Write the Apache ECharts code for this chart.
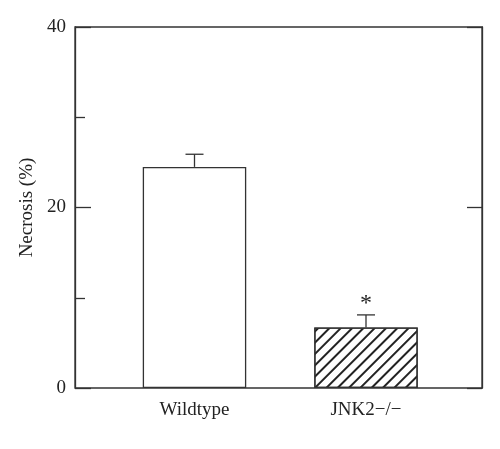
<!DOCTYPE html>
<html><head><meta charset="utf-8">
<script src="https://cdn.jsdelivr.net/npm/echarts@6/dist/echarts.min.js"></script>
<style>html,body{margin:0;padding:0;background:#fff}#c{width:500px;height:449px}</style>
</head><body><div id="c"></div>
<script>
var categories = ['Wildtype', 'JNK2\u2212/\u2212'];
var necrosis = [24.5, 6.7];
var errorTop = [25.9, 8.1];
var significance = ['', '*'];
var yTicks = [0, 20, 40];

var FONT = 'Liberation Serif';
var LINE = '#333';
var chart = echarts.init(document.getElementById('c'));

chart.setOption({
  animation: false,
  backgroundColor: '#fff',
  grid: [
    {left: 75, right: 18, top: 27, bottom: 61, show: true, borderColor: LINE, borderWidth: 1.3, backgroundColor: 'transparent'},
    {left: 108.75, right: 48.25, top: 27, bottom: 61}
  ],
  xAxis: [
    {type: 'category', gridIndex: 0, data: categories, show: false},
    {type: 'category', gridIndex: 1, data: categories,
      axisLine: {show: false}, axisTick: {show: false},
      axisLabel: {fontFamily: FONT, fontSize: 19, color: '#222', margin: 13}}
  ],
  yAxis: [
    {type: 'value', gridIndex: 0, min: yTicks[0], max: yTicks[yTicks.length - 1], interval: 20, position: 'left',
      name: 'Necrosis (%)', nameLocation: 'middle', nameGap: 37,
      nameTextStyle: {fontFamily: FONT, fontSize: 19, color: '#222'},
      axisLine: {show: true, lineStyle: {color: LINE, width: 1.3}},
      axisTick: {show: true, inside: true, length: 16, lineStyle: {color: LINE, width: 1.3}},
      minorTick: {show: true, splitNumber: 2, length: 10, lineStyle: {color: LINE, width: 1.3}},
      splitLine: {show: false},
      axisLabel: {fontFamily: FONT, fontSize: 19, color: '#222', margin: 9}},
    {type: 'value', gridIndex: 0, min: yTicks[0], max: yTicks[yTicks.length - 1], interval: 20, position: 'right',
      axisLine: {show: true, lineStyle: {color: LINE, width: 1.3}},
      axisTick: {show: true, inside: true, length: 15, lineStyle: {color: LINE, width: 1.3}},
      splitLine: {show: false}, axisLabel: {show: false}},
    {type: 'value', gridIndex: 1, min: yTicks[0], max: yTicks[yTicks.length - 1], show: false, splitLine: {show: false}}
  ],
  series: [
    {
      type: 'bar', xAxisIndex: 1, yAxisIndex: 2, barWidth: 103.5,
      data: necrosis.map(function (v, i) {
        var item = {value: v, itemStyle: {color: '#fff', borderColor: LINE, borderWidth: 1.3}};
        if (i === 1) {
          item.itemStyle.decal = {
            symbol: 'rect', symbolSize: 1, color: '#222',
            dashArrayX: [1, 0], dashArrayY: [1.2, 5.5],
            rotation: -Math.PI / 4
          };
        }
        return item;
      })
    },
    {
      type: 'custom', xAxisIndex: 1, yAxisIndex: 2, z: 5,
      data: categories.map(function (c, i) { return [i, necrosis[i], errorTop[i]]; }),
      renderItem: function (params, api) {
        var b = api.coord([api.value(0), api.value(1)]);
        var t = api.coord([api.value(0), api.value(2)]);
        var half = 9;
        var children = [
          {type: 'line', shape: {x1: b[0], y1: b[1], x2: t[0], y2: t[1]}, style: {stroke: LINE, lineWidth: 1.3}},
          {type: 'line', shape: {x1: t[0] - half, y1: t[1], x2: t[0] + half, y2: t[1]}, style: {stroke: LINE, lineWidth: 1.3}}
        ];
        var s = significance[params.dataIndex];
        if (s) {
          children.push({type: 'text', x: t[0], y: t[1] + 1,
            style: {text: s, fontFamily: FONT, fontSize: 24, fill: '#222', align: 'center', verticalAlign: 'bottom'}});
        }
        return {type: 'group', children: children};
      }
    }
  ]
});
</script></body></html>
